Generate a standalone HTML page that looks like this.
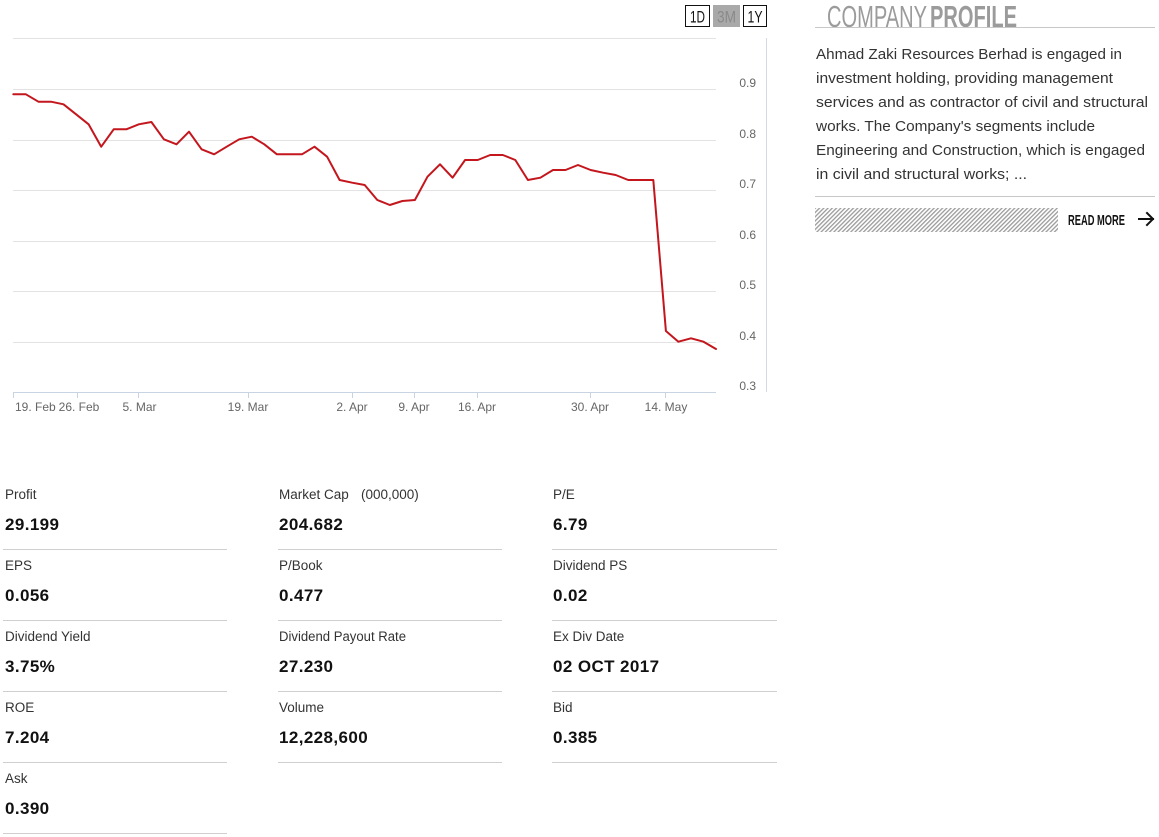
<!DOCTYPE html>
<html><head><meta charset="utf-8"><style>
html,body{margin:0;padding:0;background:#fff;width:1159px;height:837px;overflow:hidden}
svg{display:block}
text{font-family:"Liberation Sans",Arial,sans-serif}
</style></head><body>
<svg width="1159" height="837" viewBox="0 0 1159 837" xmlns="http://www.w3.org/2000/svg">
<defs>
<pattern id="hatch" width="3" height="3" patternUnits="userSpaceOnUse" patternTransform="rotate(45)">
<rect width="3" height="3" fill="#fff"/><rect width="1.3" height="3" fill="#9a9a9a"/>
</pattern>
</defs>
<!-- grid -->
<g stroke="#e3e3e3" stroke-width="1">
<line x1="13" y1="38.5" x2="716" y2="38.5"/>
<line x1="13" y1="89.5" x2="716" y2="89.5"/>
<line x1="13" y1="140.5" x2="716" y2="140.5"/>
<line x1="13" y1="190.5" x2="716" y2="190.5"/>
<line x1="13" y1="241.5" x2="716" y2="241.5"/>
<line x1="13" y1="291.5" x2="716" y2="291.5"/>
<line x1="13" y1="342.5" x2="716" y2="342.5"/>
</g>
<line x1="13" y1="392.5" x2="716" y2="392.5" stroke="#c8d4e2"/>
<line x1="766.5" y1="38" x2="766.5" y2="392" stroke="#d3d9e2"/>
<g stroke="#c8d4e2">
<line x1="13.5" y1="392" x2="13.5" y2="398"/>
<line x1="77.5" y1="392" x2="77.5" y2="398"/>
<line x1="138.5" y1="392" x2="138.5" y2="398"/>
<line x1="248.5" y1="392" x2="248.5" y2="398"/>
<line x1="352.5" y1="392" x2="352.5" y2="398"/>
<line x1="414.5" y1="392" x2="414.5" y2="398"/>
<line x1="477.5" y1="392" x2="477.5" y2="398"/>
<line x1="590.5" y1="392" x2="590.5" y2="398"/>
<line x1="665.5" y1="392" x2="665.5" y2="398"/>
</g>
<g font-size="12" fill="#666">
<text x="15" y="411">19. Feb</text>
<text x="79" y="411" text-anchor="middle">26. Feb</text>
<text x="139.5" y="411" text-anchor="middle">5. Mar</text>
<text x="248" y="411" text-anchor="middle">19. Mar</text>
<text x="352" y="411" text-anchor="middle">2. Apr</text>
<text x="414" y="411" text-anchor="middle">9. Apr</text>
<text x="477" y="411" text-anchor="middle">16. Apr</text>
<text x="590" y="411" text-anchor="middle">30. Apr</text>
<text x="666" y="411" text-anchor="middle">14. May</text>
</g>
<g font-size="12" fill="#666" text-anchor="end">
<text x="756" y="87">0.9</text>
<text x="756" y="138">0.8</text>
<text x="756" y="188">0.7</text>
<text x="756" y="239">0.6</text>
<text x="756" y="289">0.5</text>
<text x="756" y="340">0.4</text>
<text x="756" y="390">0.3</text>
</g>
<polyline fill="none" stroke="#c3161d" stroke-width="2" stroke-linejoin="round" stroke-linecap="round" points="
13.3,94.3 25.9,94.3 38.4,101.7 51,101.7 63.5,104.3 76.1,114.3 88.6,124.3 101.2,146.7 113.7,129.3 126.3,129.3
138.8,124.3 151.4,122 163.9,139.3 176.5,144.3 189,131.7 201.6,149.3 214.1,154.3 226.7,146.7 239.2,139.3 251.8,136.7
264.3,144.3 276.9,154.3 289.4,154.3 302,154.3 314.5,146.7 327.1,156.7 339.6,180 352.2,182.7 364.7,185 377.3,200
389.8,205 402.4,201 414.9,200 427.5,176.7 440,164.3 452.6,177.7 465.1,160 477.7,160 490.2,155 502.8,155
515.3,160 527.9,180 540.4,177.7 553,170 565.5,170 578,165 590.6,170 603.1,172.7 615.7,175 628.2,180
640.8,180 653.3,180 665.9,331 678.4,341.7 691,338.3 703.5,341.7 716,349"/>
<!-- buttons -->
<rect x="685.5" y="5.5" width="24" height="21" fill="#fff" stroke="#111"/>
<text x="697.5" y="22.5" font-size="17" text-anchor="middle" fill="#111" textLength="15" lengthAdjust="spacingAndGlyphs">1D</text>
<rect x="713" y="5" width="27" height="22" fill="#a9a9a9"/>
<text x="726.5" y="22.5" font-size="17" text-anchor="middle" fill="#8a8a8a" textLength="19" lengthAdjust="spacingAndGlyphs">3M</text>
<rect x="743.5" y="5.5" width="23" height="21" fill="#fff" stroke="#111"/>
<text x="755" y="22.5" font-size="17" text-anchor="middle" fill="#111" textLength="15" lengthAdjust="spacingAndGlyphs">1Y</text>
<!-- company profile -->
<text x="827" y="27" font-size="31" fill="#9b9b9b" textLength="100" lengthAdjust="spacingAndGlyphs">COMPANY</text>
<text x="930" y="27" font-size="31" font-weight="bold" fill="#9b9b9b" textLength="87" lengthAdjust="spacingAndGlyphs">PROFILE</text>
<line x1="815" y1="27.5" x2="1155" y2="27.5" stroke="#c8c8c8"/>
<g font-size="15" fill="#333">
<text x="816" y="59" textLength="306" lengthAdjust="spacingAndGlyphs">Ahmad Zaki Resources Berhad is engaged in</text>
<text x="816" y="83" textLength="297" lengthAdjust="spacingAndGlyphs">investment holding, providing management</text>
<text x="816" y="107" textLength="332" lengthAdjust="spacingAndGlyphs">services and as contractor of civil and structural</text>
<text x="816" y="131" textLength="279" lengthAdjust="spacingAndGlyphs">works. The Company's segments include</text>
<text x="816" y="155" textLength="329" lengthAdjust="spacingAndGlyphs">Engineering and Construction, which is engaged</text>
<text x="816" y="179" textLength="211" lengthAdjust="spacingAndGlyphs">in civil and structural works; ...</text>
</g>
<line x1="815" y1="196.5" x2="1155" y2="196.5" stroke="#c8c8c8"/>
<rect x="815" y="208" width="243" height="24" fill="url(#hatch)"/>
<text x="1068" y="225" font-size="14.5" font-weight="bold" fill="#111" textLength="57" lengthAdjust="spacingAndGlyphs">READ MORE</text>
<g stroke="#111" stroke-width="2" fill="none" stroke-linecap="square">
<line x1="1139" y1="219" x2="1153" y2="219"/>
<polyline points="1147,213 1153,219 1147,225" stroke-linejoin="miter"/>
</g>
<!-- table -->
<g font-size="13.5" fill="#333">
<text x="5" y="499">Profit</text>
<text x="279" y="499">Market Cap</text><text x="361" y="499">(000,000)</text>
<text x="553" y="499">P/E</text>
<text x="5" y="570">EPS</text>
<text x="279" y="570">P/Book</text>
<text x="553" y="570">Dividend PS</text>
<text x="5" y="641">Dividend Yield</text>
<text x="279" y="641" textLength="127" lengthAdjust="spacingAndGlyphs">Dividend Payout Rate</text>
<text x="553" y="641">Ex Div Date</text>
<text x="5" y="712">ROE</text>
<text x="279" y="712">Volume</text>
<text x="553" y="712">Bid</text>
<text x="5" y="783">Ask</text>
</g>
<g font-size="17" font-weight="bold" fill="#111" letter-spacing="0.4">
<text x="5" y="530">29.199</text>
<text x="279" y="530">204.682</text>
<text x="553" y="530">6.79</text>
<text x="5" y="601">0.056</text>
<text x="279" y="601">0.477</text>
<text x="553" y="601">0.02</text>
<text x="5" y="672">3.75%</text>
<text x="279" y="672">27.230</text>
<text x="553" y="672">02 OCT 2017</text>
<text x="5" y="743">7.204</text>
<text x="279" y="743">12,228,600</text>
<text x="553" y="743">0.385</text>
<text x="5" y="814">0.390</text>
</g>
<g stroke="#cfcfcf">
<line x1="3" y1="549.5" x2="227" y2="549.5"/><line x1="278" y1="549.5" x2="502" y2="549.5"/><line x1="552" y1="549.5" x2="777" y2="549.5"/>
<line x1="3" y1="620.5" x2="227" y2="620.5"/><line x1="278" y1="620.5" x2="502" y2="620.5"/><line x1="552" y1="620.5" x2="777" y2="620.5"/>
<line x1="3" y1="691.5" x2="227" y2="691.5"/><line x1="278" y1="691.5" x2="502" y2="691.5"/><line x1="552" y1="691.5" x2="777" y2="691.5"/>
<line x1="3" y1="762.5" x2="227" y2="762.5"/><line x1="278" y1="762.5" x2="502" y2="762.5"/><line x1="552" y1="762.5" x2="777" y2="762.5"/>
<line x1="3" y1="833.5" x2="227" y2="833.5"/>
</g>
</svg>
</body></html>
